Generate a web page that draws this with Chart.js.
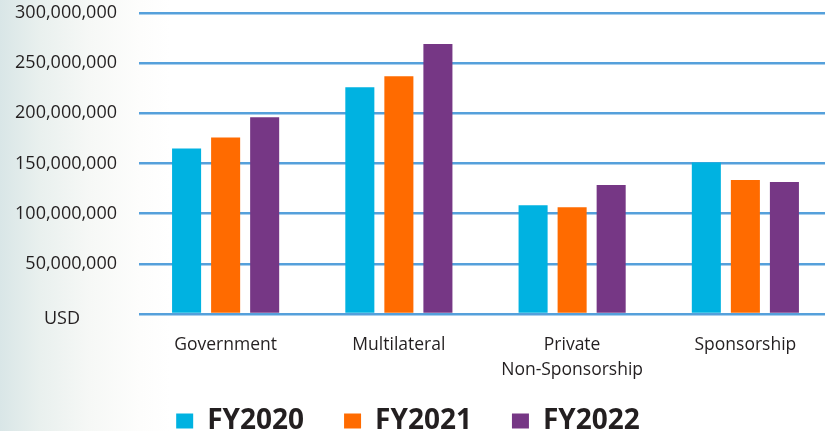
<!DOCTYPE html>
<html lang="en">
  <head>
    <meta charset="UTF-8" />
    <title>Funding by source</title>
    <style>
      html,
      body {
        margin: 0;
        padding: 0;
        width: 825px;
        height: 431px;
        overflow: hidden;
        background: linear-gradient(to right, #d9e6e7 0px, #e9f0ee 40px, #f6f8f6 90px, #fdfdfc 140px, #ffffff 170px);
      }
      .chart-box {
        width: 832px;
        height: 431px;
      }
    </style>
  </head>
  <body>
    <div class="chart-box"><canvas id="mychart"></canvas></div>

    <script src="https://cdn.jsdelivr.net/npm/chart.js@4/dist/chart.umd.min.js"></script>
    <script>
      // data (USD)
      const categories = ["Government", "Multilateral", ["Private", "Non-Sponsorship"], "Sponsorship"];
      const years = ["FY2020", "FY2021", "FY2022"];
      const fy2020 = [165000000, 226000000, 108500000, 151000000];
      const fy2021 = [176000000, 237000000, 106500000, 133500000];
      const fy2022 = [196000000, 269000000, 128500000, 131500000];
      const yTicks = [0, 50000000, 100000000, 150000000, 200000000, 250000000, 300000000];

      const colors = ["#00b2e1", "#ff6b00", "#763785"];
      const textColor = "#231f20";
      const font = "'Open Sans', 'Noto Sans', sans-serif";

      const tweaks = {
        id: "tweaks",
        afterLayout(chart) {
          // legend sits a little left of the canvas centre
          chart.legend.left -= 8;
          chart.legend.right -= 8;
          // let the two-line label spill below the x axis box
          chart.scales.x.bottom += 30;
        },
        // "USD" sits in place of the 0 label, centred further left
        afterDraw(chart) {
          const ctx = chart.ctx;
          const y = chart.scales.y.getPixelForValue(0);
          ctx.save();
          ctx.font = "18px " + font;
          ctx.fillStyle = textColor;
          ctx.textAlign = "center";
          ctx.textBaseline = "middle";
          ctx.fillText("USD", 62, y + 5);
          ctx.restore();
        },
      };

      new Chart(document.getElementById("mychart"), {
        type: "bar",
        data: {
          labels: categories,
          datasets: [
            { label: years[0], data: fy2020, backgroundColor: colors[0] },
            { label: years[1], data: fy2021, backgroundColor: colors[1] },
            { label: years[2], data: fy2022, backgroundColor: colors[2] },
          ],
        },
        options: {
          responsive: true,
          maintainAspectRatio: false,
          animation: false,
          layout: { padding: { top: 13, bottom: -14, left: 0, right: 0 } },
          categoryPercentage: 0.676,
          barPercentage: 0.744,
          plugins: {
            tooltip: { enabled: false },
            legend: {
              position: "bottom",
              labels: {
                color: textColor,
                font: { family: font, size: 28, weight: "bold" },
                boxWidth: 17,
                boxHeight: 15,
                padding: 40,
              },
            },
          },
          scales: {
            x: {
              afterFit(scale) {
                scale.height = 53;
              },
              grid: { display: false, drawTicks: false },
              border: { display: false },
              ticks: {
                color: textColor,
                font: { family: font, size: 17.5, lineHeight: 1.45 },
                padding: 18,
                maxRotation: 0,
              },
            },
            y: {
              min: 0,
              max: 300000000,
              afterFit(scale) {
                scale.width = 139;
                scale.paddingTop = 0;
                scale.paddingBottom = 0;
              },
              afterBuildTicks(scale) {
                scale.ticks = yTicks.map((v) => ({ value: v }));
              },
              grid: { color: "#55a0db", lineWidth: 2.5, drawTicks: false },
              border: { display: false },
              ticks: {
                color: textColor,
                font: { family: font, size: 18 },
                padding: 22,
                callback: (v) => (v === 0 ? "" : v.toLocaleString("en-US")),
              },
            },
          },
        },
        plugins: [tweaks],
      });
    </script>
  </body>
</html>
